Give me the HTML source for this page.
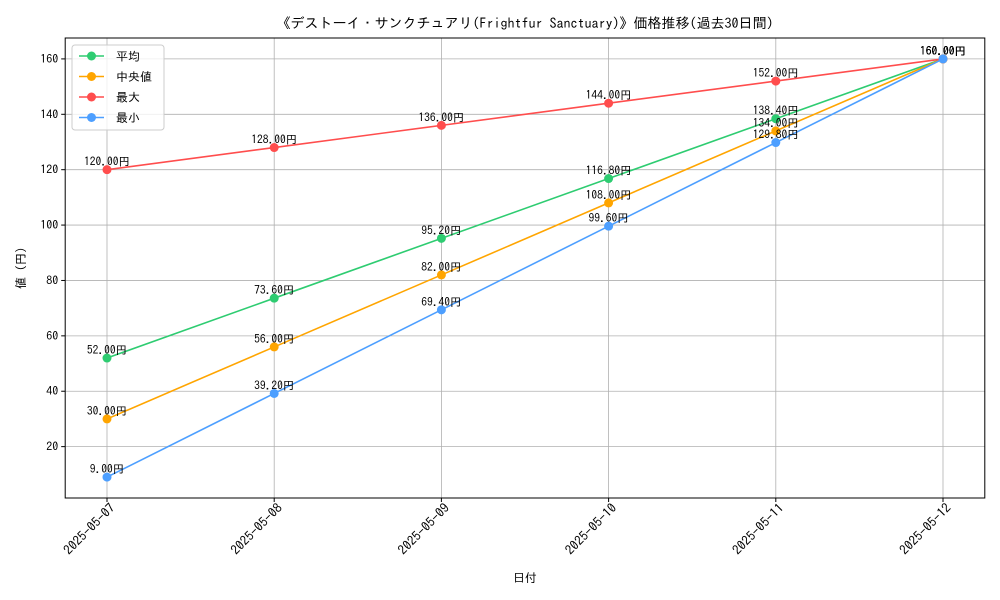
<!DOCTYPE html>
<html><head><meta charset="utf-8"><style>
body{margin:0;background:#fff;}
svg{display:block;font-family:"IPAGothic","Liberation Mono","Noto Sans CJK JP",monospace;}
</style></head><body>
<svg id="chart" width="1000" height="600">
<rect width="1000" height="600" fill="#fff"/>
<text x="525" y="28" text-anchor="middle" font-size="14">《デストーイ・サンクチュアリ(Frightfur Sanctuary)》価格推移(過去30日間)</text>
<g id="grid"></g>
<g id="axes"></g>
<g id="series"></g>
<rect x="65.2" y="38" width="919.6" height="460" fill="none" stroke="#000" stroke-width="1"/>
<text x="525" y="582" text-anchor="middle" font-size="12">日付</text>
<text transform="translate(25,268) rotate(-90)" text-anchor="middle" font-size="12">値 (円)</text>
<g id="legend">
<rect x="72" y="45" width="92" height="85" rx="3" fill="#fff" fill-opacity="0.8" stroke="#ccc"/>
</g>
</svg>
<script>
const dates=["2025-05-07","2025-05-08","2025-05-09","2025-05-10","2025-05-11","2025-05-12"];
const avgVals=[52,73.6,95.2,116.8,138.4,160];
const medVals=[30,56,82,108,134,160];
const maxVals=[120,128,136,144,152,160];
const minVals=[9,39.2,69.4,99.6,129.8,160];
const yTicks=[20,40,60,80,100,120,140,160];
const seriesNames=["平均","中央値","最大","最小"];
const NS="http://www.w3.org/2000/svg";
const L=65.2,R=984.8,T=38,B=498;
const yMin=1.45,yMax=167.55;
const n=dates.length;
const xs=i=>L+(R-L)*(i+0.25)/(n-1+0.5);
const ys=v=>B-(v-yMin)/(yMax-yMin)*(B-T);
function mk(tag,attrs,parent,txt){const e=document.createElementNS(NS,tag);for(const k in attrs)e.setAttribute(k,attrs[k]);if(txt!==undefined)e.textContent=txt;parent.appendChild(e);return e;}
const grid=document.getElementById('grid'),axes=document.getElementById('axes'),ser=document.getElementById('series'),leg=document.getElementById('legend');
dates.forEach((d,i)=>{
 const x=xs(i);
 const g=mk('line',{x1:x,x2:x,y1:T,y2:B,stroke:'#b0b0b0','stroke-width':0.8},grid);
 
 
 mk('line',{x1:x,x2:x,y1:B,y2:B+4,stroke:'#000'},axes);
 const t=mk('text',{x:x+6,y:B+12,'font-size':13,'text-anchor':'end',textLength:66,lengthAdjust:'spacingAndGlyphs',transform:`rotate(-45 ${x+6} ${B+8})`},axes,d);
 
 
});
yTicks.forEach(v=>{
 const y=ys(v);
 const g=mk('line',{x1:L,x2:R,y1:y,y2:y,stroke:'#b0b0b0','stroke-width':0.8},grid);
 
 
 mk('line',{x1:L-4,x2:L,y1:y,y2:y,stroke:'#000'},axes);
 const t=mk('text',{x:L-7,y:y+4,'font-size':12,'text-anchor':'end'},axes,String(v));
 
 
});
const all=[[avgVals,'#2ecc71'],[medVals,'#ffa500'],[maxVals,'#ff4d4d'],[minVals,'#4d9fff']];
all.forEach(([vals,c],si)=>{
 const g=mk('g',{},ser);
 
 
 mk('polyline',{points:vals.map((v,i)=>xs(i)+','+ys(v)).join(' '),fill:'none',stroke:c,'stroke-width':1.6},g);
 vals.forEach((v,i)=>{
  const p=mk('circle',{cx:xs(i),cy:ys(v),r:4.5,fill:c},g);
  
  
  const t=mk('text',{x:xs(i),y:ys(v)-4,'font-size':11.5,'text-anchor':'middle'},g,v.toFixed(2)+'円');
  
  
 });
 const ly=56+si*20.5;
 mk('line',{x1:79,x2:104,y1:ly,y2:ly,stroke:c,'stroke-width':1.6},leg);
 mk('circle',{cx:91.5,cy:ly,r:4.5,fill:c},leg);
 const lt=mk('text',{x:116,y:ly+4.5,'font-size':12},leg,seriesNames[si]);
 
 
});
</script>
</body></html>
